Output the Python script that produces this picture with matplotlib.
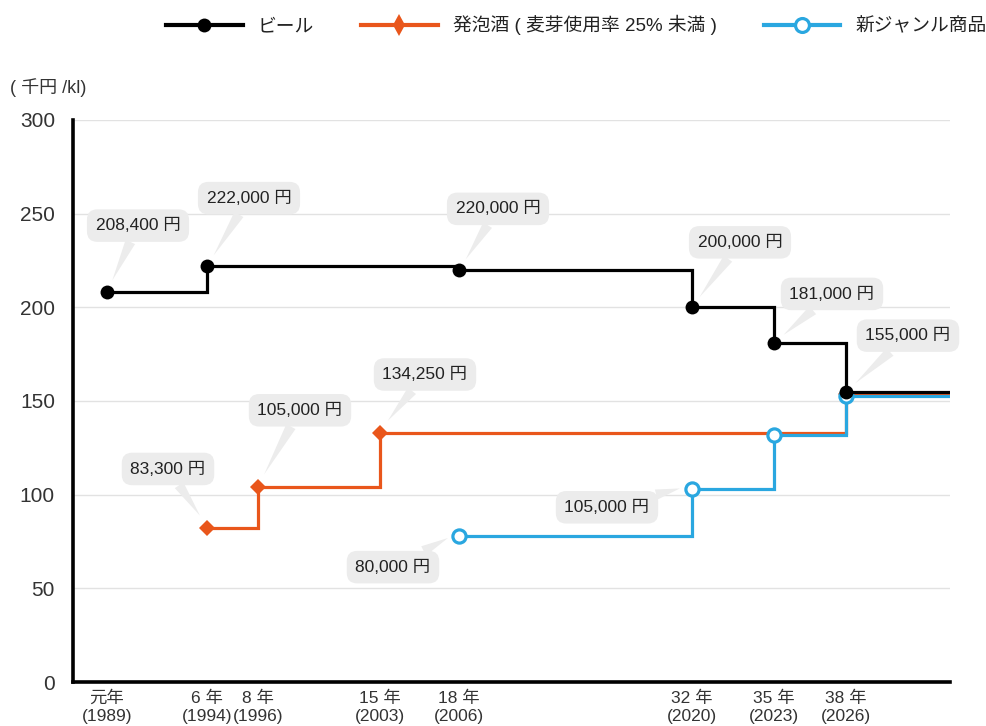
#!/usr/bin/env python3
import numpy as np
import matplotlib.pyplot as plt
from matplotlib.lines import Line2D
from matplotlib import transforms

plt.rcParams['font.family'] = ['Liberation Sans', 'Noto Sans CJK JP', 'DejaVu Sans']

# tax per kilolitre, thousand yen
beer_years = [1989, 1994, 2006, 2020, 2023, 2026]
beer_vals = [208.4, 222.0, 220.0, 200.0, 181.0, 155.0]

happo_years = [1994, 1996, 2003, 2026]
happo_vals = [83.3, 105.0, 134.25, 155.0]

genre_years = [2006, 2020, 2023, 2026]
genre_vals = [80.0, 105.0, 134.25, 155.0]

tick_years = [1989, 1994, 1996, 2003, 2006, 2020, 2023, 2026]
tick_era = ['元年', '6 年', '8 年', '15 年', '18 年', '32 年', '35 年', '38 年']

series_names = ['ビール', '発泡酒 ( 麦芽使用率 25% 未満 )', '新ジャンル商品']

# which points carry a value bubble, and where the bubble sits (pixels from the point)
beer_notes = {1989: (31, 66), 1994: (42, 68), 2006: (39, 61), 2020: (48, 65),
              2023: (58, 49), 2026: (62, 56)}
happo_notes = {1994: (-39, 57), 1996: (42, 75), 2003: (45, 56)}
genre_notes = {2006: (-66, -35), 2020: (-85, -22)}

BLACK = '#000000'
ORANGE = '#e9561b'
BLUE = '#2aa7e0'
X_END = 2030.3

# uneven spacing of the year axis
anchor_years = [1987.3, 1989, 1994, 1996, 2003, 2006, 2020, 2023, 2026, X_END]
anchor_pos = [73, 107, 207, 258, 380, 459, 692, 774, 846, 950]


def fwd(x):
    return np.interp(x, anchor_years, anchor_pos)


def inv(x):
    return np.interp(x, anchor_pos, anchor_years)


fig = plt.figure(figsize=(9.87, 7.26), dpi=100)
ax = fig.add_axes([73 / 987, 44 / 726, 877 / 987, 562 / 726])
ax.set_xscale('function', functions=(fwd, inv))
ax.set_xlim(anchor_years[0], X_END)
ax.set_ylim(0, 300)


def draw_series(years, vals, color, marker, mfc, ms, mew, dy, z):
    tr = transforms.offset_copy(ax.transData, fig=fig, x=0, y=dy, units='dots')
    xs = list(years) + [X_END]
    ys = list(vals) + [vals[-1]]
    ax.step(xs, ys, where='post', color=color, lw=2.3, transform=tr, zorder=z,
            solid_joinstyle='miter')
    ax.plot(years, vals, ls='none', marker=marker, ms=ms, mfc=mfc, mec=color,
            mew=mew, transform=tr, zorder=z + 0.5)


draw_series(happo_years, happo_vals, ORANGE, 'D', ORANGE, 8.5, 0, -2, 3)
draw_series(genre_years, genre_vals, BLUE, 'o', 'white', 9.5, 2.3, -4, 4)
draw_series(beer_years, beer_vals, BLACK, 'o', BLACK, 10, 0, 0, 5)


def bubble(year, val, off):
    ax.annotate(f'{val * 1000:,.0f} 円', xy=(year, val), xytext=off,
                textcoords='offset pixels', ha='center', va='center',
                fontsize=12.5, color='#222222', zorder=8,
                bbox=dict(boxstyle='round,pad=0.5,rounding_size=0.6',
                          fc='#ececec', ec='none'),
                arrowprops=dict(arrowstyle='wedge,tail_width=0.6', fc='#ececec',
                                ec='none', shrinkA=0, shrinkB=9))


for years, vals, notes in [(beer_years, beer_vals, beer_notes),
                           (happo_years, happo_vals, happo_notes),
                           (genre_years, genre_vals, genre_notes)]:
    for y, v in zip(years, vals):
        if y in notes:
            bubble(y, v, notes[y])

ax.set_yticks(range(0, 301, 50))
ax.set_xticks(tick_years)
ax.set_xticklabels([f'{e}\n({y})' for e, y in zip(tick_era, tick_years)],
                   fontsize=12.5, color='#333333', linespacing=1.25)
ax.tick_params(axis='x', length=0, pad=6)
ax.tick_params(axis='y', length=0, pad=13, labelsize=15, labelcolor='#333333')
ax.grid(axis='y', color='#e2e2e2', lw=1)
ax.set_axisbelow(True)
for s in ['top', 'right']:
    ax.spines[s].set_visible(False)
for s in ['left', 'bottom']:
    ax.spines[s].set_linewidth(2.6)
    ax.spines[s].set_zorder(6)

fig.text(10 / 987, 1 - 88 / 726, '( 千円 /kl)', fontsize=13, color='#333333',
         ha='left', va='center')

handles = [
    Line2D([], [], color=BLACK, lw=3, marker='o', ms=10, mfc=BLACK, mew=0),
    Line2D([], [], color=ORANGE, lw=3, marker='d', ms=11, mfc=ORANGE, mew=0),
    Line2D([], [], color=BLUE, lw=3, marker='o', ms=10, mfc='white', mec=BLUE, mew=2.3),
]
fig.legend(handles, series_names, loc='center left', bbox_to_anchor=(0.151, 1 - 25 / 726),
           ncol=3, frameon=False, fontsize=13.5, handlelength=4.1, handletextpad=0.8,
           columnspacing=2.5, labelcolor='#222222')

fig.savefig('out.png', dpi=100)
